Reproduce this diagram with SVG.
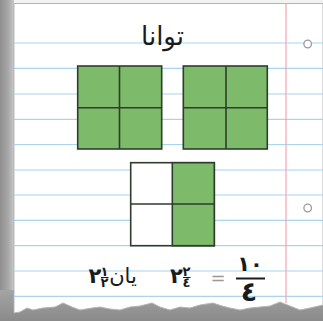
<svg xmlns="http://www.w3.org/2000/svg" width="323" height="321" viewBox="0 0 323 321">
<defs>
<linearGradient id="shadowL" x1="0" y1="0" x2="1" y2="0">
<stop offset="0" stop-color="#8e8e8e"/>
<stop offset="0.6" stop-color="#a9a9a9"/>
<stop offset="1" stop-color="#c8c8c8"/>
</linearGradient>
<linearGradient id="shadowB" x1="0" y1="0" x2="0" y2="1">
<stop offset="0" stop-color="#a4a4a4"/>
<stop offset="1" stop-color="#8a8a8a"/>
</linearGradient>
</defs>
<style>
.rule{stroke:#a9d3ee;stroke-width:1.2}
.cell{fill:#7dba69;stroke:#2e3d2e;stroke-width:1.6}
.empty{fill:#ffffff;stroke:#2e3d2e;stroke-width:1.6}
.grid{stroke:#2e3d2e;stroke-width:1.6}
.hole{fill:#ffffff;stroke:#9a9a9a;stroke-width:1.3}
.ar{font-family:"DejaVu Sans",sans-serif;fill:#1a1a1a;text-anchor:middle}
.bar{stroke:#1a1a1a}
</style>
<rect x="0" y="0" width="323" height="321" fill="#f2f2f2"/>
<rect x="0" y="0" width="14" height="321" fill="url(#shadowL)"/>
<rect x="0" y="290" width="323" height="31" fill="url(#shadowB)"/>
<g id="paper">
<path d="M14,3.5 L323,3.5 L323,305 L310,308 L300,310 L290,306 L280,302 L270,306 L260,307 L250,308 L240,310 L230,308 L222,306 L213,303 L200,305 L190,308 L180,307 L170,310 L160,307 L152,303 L140,306 L130,307 L120,310 L110,309 L100,307 L92,308 L80,310 L72,307 L63,303 L55,307 L43,308 L33,310 L27,308 L20,312 L14,313 Z" fill="#ffffff" stroke="#b5b5b5" stroke-width="1"/>
</g>
<g id="rules">
<line class="rule" x1="14" y1="43" x2="323" y2="43"/>
<line class="rule" x1="14" y1="68.3" x2="323" y2="68.3"/>
<line class="rule" x1="14" y1="94" x2="323" y2="94"/>
<line class="rule" x1="14" y1="119.3" x2="323" y2="119.3"/>
<line class="rule" x1="14" y1="144.5" x2="323" y2="144.5"/>
<line class="rule" x1="14" y1="170" x2="323" y2="170"/>
<line class="rule" x1="14" y1="195" x2="323" y2="195"/>
<line class="rule" x1="14" y1="220.3" x2="323" y2="220.3"/>
<line class="rule" x1="14" y1="245.6" x2="323" y2="245.6"/>
<line class="rule" x1="14" y1="271" x2="323" y2="271"/>
<line class="rule" x1="14" y1="296.3" x2="323" y2="296.3"/>
<line x1="286" y1="3.5" x2="286" y2="303" stroke="#f3a3b4" stroke-width="1.2"/>
<circle class="hole" cx="307.7" cy="44" r="3.8"/>
<circle class="hole" cx="307.7" cy="208" r="3.8"/>
</g>
<g id="title">
<text class="ar" x="162.5" y="45" font-size="26">توانا</text>
</g>
<g id="whole1">
<rect class="cell" x="77.7" y="66" width="84" height="83"/>
<line class="grid" x1="119.5" y1="66" x2="119.5" y2="149"/>
<line class="grid" x1="77.7" y1="107.7" x2="161.7" y2="107.7"/>
</g>
<g id="whole2">
<rect class="cell" x="183.3" y="66" width="84" height="83"/>
<line class="grid" x1="226" y1="66" x2="226" y2="149"/>
<line class="grid" x1="183.3" y1="107.7" x2="267.3" y2="107.7"/>
</g>
<g id="half">
<rect class="empty" x="130.7" y="162.7" width="83.6" height="83"/>
<rect class="cell" x="172.3" y="162.7" width="42" height="83"/>
<line class="grid" x1="130.7" y1="204" x2="214.3" y2="204"/>
</g>
<g id="equation">
<text class="ar" x="95" y="283" font-size="21" font-weight="bold">٢</text>
<text class="ar" x="104.5" y="276" font-size="13" font-weight="bold">١</text>
<line class="bar" x1="101" y1="277.5" x2="108.5" y2="277.5" stroke-width="1"/>
<text class="ar" x="104.5" y="287" font-size="13" font-weight="bold">٢</text>
<text class="ar" x="123" y="283" font-size="21">یان</text>
<text class="ar" x="176.5" y="283" font-size="21" font-weight="bold">٢</text>
<text class="ar" x="186.5" y="276" font-size="13" font-weight="bold">٢</text>
<line class="bar" x1="183" y1="277.5" x2="190.5" y2="277.5" stroke-width="1"/>
<text class="ar" x="186.5" y="287" font-size="13" font-weight="bold">٤</text>
<text class="ar" x="218" y="284" font-size="18" style="fill:#9a9a9a">=</text>
<text class="ar" x="250" y="271" font-size="21" font-weight="bold">١٠</text>
<line class="bar" x1="236" y1="278.5" x2="265" y2="278.5" stroke-width="2"/>
<text class="ar" x="249" y="301" font-size="27" font-weight="bold">٤</text>
</g>
</svg>
